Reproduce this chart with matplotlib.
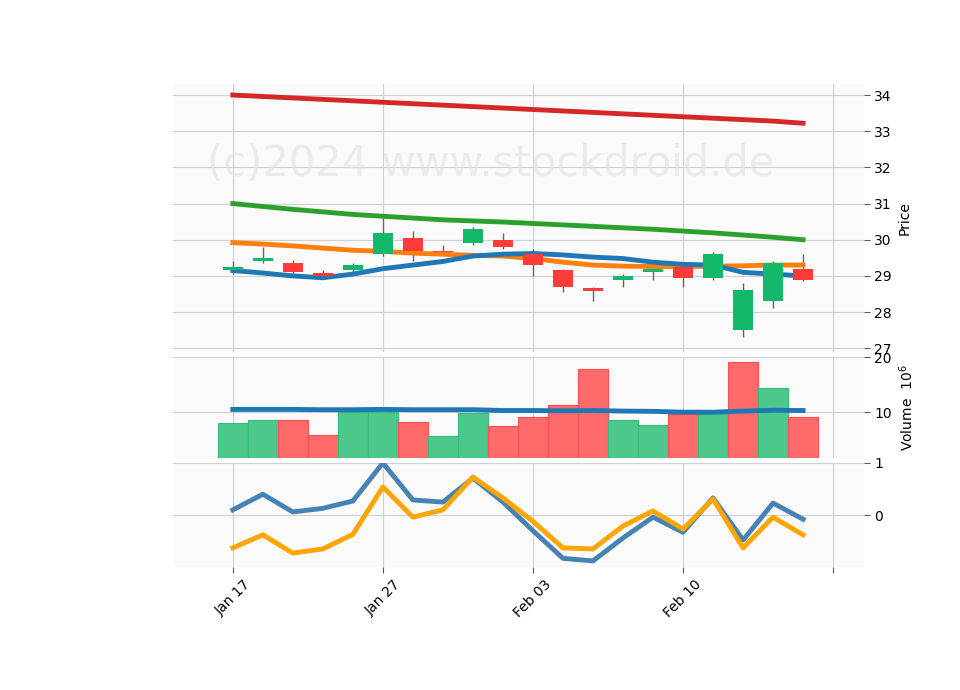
import numpy as np
import matplotlib.pyplot as plt

tick_labels = ["Jan 17", "Jan 27", "Feb 03", "Feb 10", ""]
tick_idx = [0, 5, 10, 15, 20]

opens = [29.15, 29.40, 29.35, 29.08, 29.15, 29.60, 30.05, 29.70, 29.90, 30.00,
         29.60, 29.15, 28.66, 28.90, 29.10, 29.25, 28.95, 27.50, 28.30, 29.20]
closes = [29.25, 29.50, 29.10, 29.00, 29.30, 30.20, 29.70, 29.65, 30.30, 29.80,
          29.30, 28.70, 28.58, 29.00, 29.20, 28.95, 29.60, 28.60, 29.35, 28.90]
highs = [29.40, 29.80, 29.45, 29.15, 29.35, 30.60, 30.25, 29.85, 30.35, 30.20,
         29.75, 29.20, 28.70, 29.05, 29.25, 29.30, 29.65, 28.80, 29.40, 29.60]
lows = [29.05, 29.35, 29.05, 28.95, 29.10, 29.55, 29.40, 29.60, 29.85, 29.75,
        29.00, 28.55, 28.30, 28.70, 28.90, 28.70, 28.90, 27.30, 28.10, 28.85]
ma_red = [34.00, 33.96, 33.92, 33.88, 33.84, 33.80, 33.76, 33.72, 33.68, 33.64,
          33.60, 33.56, 33.52, 33.48, 33.44, 33.40, 33.36, 33.32, 33.28, 33.22]
ma_green = [31.00, 30.92, 30.84, 30.77, 30.70, 30.65, 30.60, 30.55, 30.52, 30.49,
            30.45, 30.41, 30.37, 30.33, 30.29, 30.24, 30.19, 30.13, 30.07, 30.00]
ma_orange = [29.92, 29.88, 29.83, 29.77, 29.71, 29.68, 29.63, 29.60, 29.57, 29.55,
             29.48, 29.38, 29.30, 29.27, 29.26, 29.26, 29.27, 29.28, 29.30, 29.30]
ma_blue = [29.15, 29.08, 29.00, 28.95, 29.05, 29.20, 29.30, 29.40, 29.55, 29.60,
           29.62, 29.58, 29.52, 29.48, 29.38, 29.32, 29.30, 29.10, 29.05, 29.00]
volume = [8.0, 8.5, 8.5, 5.8, 10.0, 10.0, 8.2, 5.6, 9.8, 7.5,
          9.1, 11.3, 17.8, 8.5, 7.6, 9.6, 9.6, 19.1, 14.5, 9.1]
vol_up = [1, 1, 0, 0, 1, 1, 0, 1, 1, 0, 0, 0, 0, 1, 1, 0, 1, 0, 1, 0]
vol_ma = [10.5, 10.5, 10.5, 10.45, 10.45, 10.5, 10.45, 10.45, 10.45, 10.3,
          10.3, 10.25, 10.3, 10.2, 10.15, 10.0, 10.0, 10.2, 10.35, 10.3]
osc_blue = [0.10, 0.40, 0.06, 0.13, 0.27, 1.00, 0.29, 0.25, 0.71, 0.25,
            -0.30, -0.83, -0.88, -0.44, -0.04, -0.33, 0.33, -0.48, 0.23, -0.08]
osc_orange = [-0.63, -0.38, -0.73, -0.65, -0.37, 0.54, -0.04, 0.10, 0.73, 0.33,
              -0.12, -0.63, -0.65, -0.21, 0.08, -0.27, 0.31, -0.63, -0.04, -0.38]

UP, DOWN = "#14b86a", "#ff3a3a"
x = np.arange(len(opens))

fig = plt.figure(figsize=(9.6, 6.9), dpi=100)
ax1 = fig.add_axes([0.180, 0.490, 0.720, 0.388])
ax2 = fig.add_axes([0.180, 0.336, 0.720, 0.146], sharex=ax1)
ax3 = fig.add_axes([0.180, 0.178, 0.720, 0.151], sharex=ax1)

for ax in (ax1, ax2, ax3):
    ax.set_facecolor("#fafafa")
    ax.grid(True, color="#d0d0d0", linewidth=0.8)
    ax.set_axisbelow(True)
    for s in ax.spines.values():
        s.set_visible(False)
    ax.yaxis.tick_right()
    ax.yaxis.set_label_position("right")
    ax.tick_params(length=4, color="#555555")

# candles
for i in x:
    c = UP if closes[i] >= opens[i] else DOWN
    ax1.vlines(i, lows[i], highs[i], color="#666666", linewidth=1, zorder=2)
    lo, hi = min(opens[i], closes[i]), max(opens[i], closes[i])
    ax1.bar(i, max(hi - lo, 0.04), bottom=lo, width=0.65, color=c, zorder=3)
ax1.plot(x, ma_red, color="#d62728", linewidth=3.5)
ax1.plot(x, ma_green, color="#2ca02c", linewidth=3.5)
ax1.plot(x, ma_orange, color="#ff7f0e", linewidth=3.5)
ax1.plot(x, ma_blue, color="#1f77b4", linewidth=3.5)
ax1.set_ylim(26.9, 34.3)
ax1.set_yticks(range(27, 35))
ax1.set_ylabel("Price")
ax1.text(0.46, 0.70, "(c)2024 www.stockdroid.de", transform=ax1.transAxes,
         ha="center", va="center", fontsize=30, color="#e2e2e2", alpha=0.6)
ax1.tick_params(axis="x", length=0, labelbottom=False)

# volume
vcols = ["#4cc88d" if u else "#ff6b6b" for u in vol_up]
ecols = ["#2fbf7a" if u else "#ff4d4d" for u in vol_up]
ax2.bar(x, volume, width=1.0, color=vcols, edgecolor=ecols, linewidth=0.8, zorder=2)
ax2.plot(x, vol_ma, color="#1f77b4", linewidth=3.5, zorder=3)
ax2.set_ylim(1.6, 20)
ax2.set_yticks([10, 20])
ax2.set_ylabel("Volume  $10^6$")
ax2.tick_params(axis="x", length=0, labelbottom=False)

# oscillator
ax3.plot(x, osc_blue, color="#4682b4", linewidth=3.5)
ax3.plot(x, osc_orange, color="#ffa500", linewidth=3.5)
ax3.set_ylim(-1, 1)
ax3.set_yticks([0, 1])
ax3.set_xlim(-2, 21.03)
ax3.set_xticks(tick_idx)
ax3.set_xticklabels(tick_labels, rotation=45)

fig.savefig("out.png", dpi=100)
